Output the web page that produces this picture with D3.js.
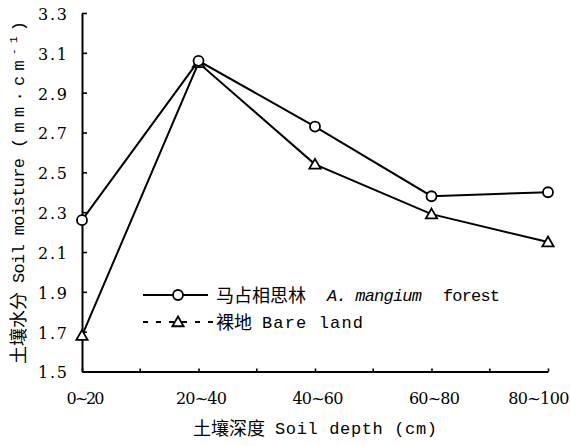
<!DOCTYPE html>
<html>
<head>
<meta charset="utf-8">
<script src="https://cdn.jsdelivr.net/npm/d3@7/dist/d3.min.js"></script>
<style>
  html, body { margin: 0; padding: 0; background: #fff; }
  svg { display: block; }
</style>
</head>
<body>
<svg id="chart" width="570" height="446"></svg>
<script>
// Soil depth classes (cm)
const depths = ["0~20", "20~40", "40~60", "60~80", "80~100"];
// Soil moisture, mm·cm⁻¹
const forestMoisture = [2.26, 3.06, 2.73, 2.38, 2.40];
const bareMoisture   = [1.68, 3.05, 2.54, 2.29, 2.15];
const yTicks = [1.5, 1.7, 1.9, 2.1, 2.3, 2.5, 2.7, 2.9, 3.1, 3.3];

const svg = d3.select("#chart");
const ink = "#000";
const CJK = "'Noto Sans CJK SC', sans-serif";
const MONO = "'Liberation Mono', monospace";
const SERIF = "'DejaVu Serif', serif";

// spread a text run's letters so it fills the given width
function fitWidth(sel, width) {
  sel.each(function () {
    const t = d3.select(this);
    const w = typeof width === "function" ? width(this.textContent) : width;
    const n = this.textContent.length;
    t.attr("letter-spacing", "0px");
    const w0 = this.getComputedTextLength();
    t.attr("letter-spacing", ((w - w0) / Math.max(n - 1, 1)).toFixed(2) + "px");
  });
  return sel;
}

const x = d3.scalePoint().domain(depths).range([82, 548]);
const y = d3.scaleLinear().domain([1.5, 3.3]).range([371.5, 13]);

// y axis, ticks pointing inward
const yAxis = svg.append("g")
  .attr("transform", "translate(82,0)")
  .call(d3.axisLeft(y).tickValues(yTicks).tickSizeInner(-5).tickSizeOuter(0)
    .tickPadding(15).tickFormat(d3.format(".1f")));
yAxis.attr("font-family", SERIF);
yAxis.select(".domain").attr("stroke", ink).attr("stroke-width", 2);
yAxis.selectAll(".tick line").attr("stroke", ink).attr("stroke-width", 1.6);
fitWidth(yAxis.selectAll(".tick text").attr("font-size", 16).attr("fill", ink)
  .attr("text-anchor", "start").attr("x", -44).attr("dy", "0.40em"), 29);

// x axis, category ticks plus half-step ticks
const xAxis = svg.append("g")
  .attr("transform", "translate(0,371.5)")
  .call(d3.axisBottom(x).tickSizeInner(-3).tickSizeOuter(0).tickPadding(21));
xAxis.attr("font-family", SERIF);
xAxis.select(".domain").attr("stroke", ink).attr("stroke-width", 2);
xAxis.selectAll(".tick line").attr("stroke", ink).attr("stroke-width", 1.6);
fitWidth(xAxis.selectAll(".tick text").attr("font-size", 16).attr("fill", ink)
  .attr("dx", (d, i) => i === depths.length - 1 ? -10 : 2),
  s => s.length === 4 ? 38 : s.length === 5 ? 51 : 61);
xAxis.selectAll(".midtick")
  .data(depths.slice(0, -1))
  .enter().append("line")
  .attr("x1", d => x(d) + x.step() / 2).attr("x2", d => x(d) + x.step() / 2)
  .attr("y1", 0).attr("y2", -3)
  .attr("stroke", ink).attr("stroke-width", 1.6);

const line = d3.line().x((d, i) => x(depths[i])).y(d => y(d));
const triangle = d3.symbol().type(d3.symbolTriangle).size(55);

function drawSeries(values, marker) {
  svg.append("path").datum(values)
    .attr("d", line).attr("fill", "none")
    .attr("stroke", ink).attr("stroke-width", 2);
  const g = svg.append("g");
  values.forEach((v, i) => {
    if (marker === "circle") {
      g.append("circle").attr("cx", x(depths[i])).attr("cy", y(v)).attr("r", 5)
        .attr("fill", "#fff").attr("stroke", ink).attr("stroke-width", 1.8);
    } else {
      g.append("path").attr("d", triangle)
        .attr("transform", `translate(${x(depths[i])},${y(v) + 1})`)
        .attr("fill", "#fff").attr("stroke", ink).attr("stroke-width", 1.8);
    }
  });
}
drawSeries(bareMoisture, "triangle");
drawSeries(forestMoisture, "circle");

// legend
const lg = svg.append("g");
lg.append("line").attr("x1", 143).attr("x2", 208).attr("y1", 295).attr("y2", 295)
  .attr("stroke", ink).attr("stroke-width", 2);
lg.append("circle").attr("cx", 178).attr("cy", 295).attr("r", 5)
  .attr("fill", "#fff").attr("stroke", ink).attr("stroke-width", 1.8);
lg.append("text").attr("x", 216).attr("y", 302).attr("font-size", 18)
  .attr("font-family", CJK).attr("fill", ink).text("马占相思林");
fitWidth(lg.append("text").attr("x", 327).attr("y", 301).attr("font-size", 17)
  .attr("font-family", MONO).attr("font-style", "italic").attr("fill", ink)
  .text("A. mangium"), 95);
fitWidth(lg.append("text").attr("x", 443).attr("y", 301).attr("font-size", 17)
  .attr("font-family", MONO).attr("fill", ink).text("forest"), 57);

lg.append("line").attr("x1", 143).attr("x2", 215).attr("y1", 322).attr("y2", 322)
  .attr("stroke", ink).attr("stroke-width", 2).attr("stroke-dasharray", "5,8");
lg.append("path").attr("d", triangle).attr("transform", "translate(178,323)")
  .attr("fill", "#fff").attr("stroke", ink).attr("stroke-width", 1.8);
lg.append("text").attr("x", 216).attr("y", 329).attr("font-size", 18)
  .attr("font-family", CJK).attr("fill", ink).text("裸地");
fitWidth(lg.append("text").attr("x", 262).attr("y", 328).attr("font-size", 17)
  .attr("font-family", MONO).attr("fill", ink).text("Bare land"), 101);

// x axis title
svg.append("text").attr("x", 193).attr("y", 435).attr("font-size", 18)
  .attr("font-family", CJK).attr("fill", ink).text("土壤深度");
fitWidth(svg.append("text").attr("x", 275).attr("y", 434).attr("font-size", 17)
  .attr("font-family", MONO).attr("fill", ink).text("Soil depth (cm)"), 162);

// y axis title, rotated
const yt = svg.append("g").attr("transform", "translate(25,0) rotate(-90)");
yt.append("text").attr("x", -364).attr("y", 0).attr("font-size", 18)
  .attr("font-family", CJK).attr("fill", ink).text("土壤水分");
fitWidth(yt.append("text").attr("x", -283).attr("y", -1).attr("font-size", 17)
  .attr("font-family", MONO).attr("fill", ink).text("Soil moisture"), 125);
const unit = yt.append("text").attr("x", -148).attr("y", -1).attr("font-size", 17)
  .attr("font-family", MONO).attr("fill", ink);
unit.append("tspan").text("(mm·cm");
unit.append("tspan").attr("font-size", 11).attr("dy", -7).text("-1");
unit.append("tspan").attr("dy", 7).text(")");
fitWidth(unit, 127);
</script>
</body>
</html>
